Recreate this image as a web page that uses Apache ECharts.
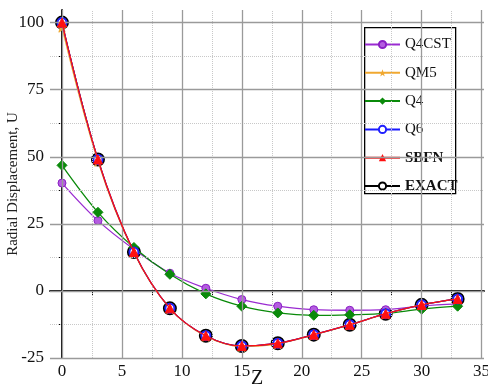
<!DOCTYPE html>
<html><head><meta charset="utf-8">
<script src="https://cdn.jsdelivr.net/npm/echarts@6/dist/echarts.min.js"></script>
<style>html,body{margin:0;padding:0;background:#fff}#c{width:488px;height:385px}</style>
</head><body><div id="c"></div><script>
const zValues = [0, 3, 6, 9, 12, 15, 18, 21, 24, 27, 30, 33];
const q4cst = [40.2, 26.2, 15.5, 6.6, 1.0, -3.2, -5.7, -7.0, -7.2, -7.0, -5.6, -4.8];
const qm5   = [98.3, 48.3, 14.2, -6.6, -16.9, -20.7, -19.7, -16.4, -12.7, -8.6, -5.2, -3.0];
const q4    = [46.8, 29.3, 16.2, 6.2, -1.1, -5.7, -8.2, -9.1, -8.9, -8.4, -6.8, -5.7];
const q6    = [100, 49, 14.5, -6.5, -16.7, -20.5, -19.5, -16.3, -12.6, -8.5, -5.2, -3.0];
const sbfn  = [100, 49, 14.5, -6.5, -16.7, -20.5, -19.5, -16.3, -12.6, -8.5, -5.2, -3.0];
const exact = [100, 49, 14.5, -6.5, -16.7, -20.5, -19.5, -16.3, -12.6, -8.5, -5.2, -3.0];
const xTickValues = [0, 5, 10, 15, 20, 25, 30, 35];
const xMinorValues = [2.5, 7.5, 12.5, 17.5, 22.5, 27.5, 32.5];
const yTickValues = [-25, 0, 25, 50, 75, 100];
const yMinorValues = [-12.5, 12.5, 37.5, 62.5, 87.5];
const seriesNames = ['Q4CST', 'QM5', 'Q4', 'Q6', 'SBFN', 'EXACT'];

const pair = arr => zValues.map((x, i) => [x, arr[i]]);
const serif = 'Liberation Serif';
const star = 'path://M0,-10 L2.35,-3.24 L9.51,-3.09 L3.8,1.24 L5.88,8.09 L0,4 L-5.88,8.09 L-3.8,1.24 L-9.51,-3.09 L-2.35,-3.24 Z';

const chart = echarts.init(document.getElementById('c'), null, {renderer: 'canvas'});
const gridLine = (vals, axis, type, color) => ({
  type: 'line', data: [], silent: true, z: 0,
  markLine: {
    silent: true, symbol: 'none', animation: false,
    label: {show: false},
    lineStyle: {type: type, color: color, width: type === 'solid' ? 1.3 : 1},
    data: vals.map(v => ({[axis]: v}))
  }
});
const mk = (name, data, color, symbol, size, extra) => Object.assign({
  name, type: 'line', data: pair(data), smooth: 0.35,
  symbol, symbolSize: size,
  lineStyle: {color, width: 1.3},
  itemStyle: {color, borderColor: color},
  animation: false
}, extra || {});

chart.setOption({
  backgroundColor: '#fff',
  grid: {left: 50, right: 4, top: 10, bottom: 27, containLabel: false, outerBoundsMode: 'none'},
  xAxis: [{
    type: 'value', min: -1, max: 35.2, position: 'bottom',
    name: 'Z', nameLocation: 'middle', nameGap: 11, nameMoveOverlap: false,
    nameTextStyle: {fontFamily: serif, fontSize: 20, color: '#111', padding: [0, 20, 0, 0]},
    axisLine: {show: true, lineStyle: {color: '#000', width: 1.5}},
    axisTick: {show: true, inside: false, length: 4, customValues: xMinorValues, lineStyle: {color: '#000'}},
    axisLabel: {customValues: xTickValues, fontFamily: serif, fontSize: 17, color: '#111', margin: 5},
    splitLine: {show: false}
  }, {
    type: 'value', min: -1, max: 35.2, position: 'top',
    axisLine: {show: true, lineStyle: {color: '#000', width: 1.5}},
    axisTick: {show: true, inside: true, length: 5, customValues: xTickValues, lineStyle: {color: '#000'}},
    axisLabel: {show: false}, splitLine: {show: false}
  }],
  yAxis: [{
    type: 'value', min: -25, max: 104.7,
    name: 'Radial Displacement, U', nameLocation: 'middle', nameGap: 29, nameMoveOverlap: false,
    nameTextStyle: {fontFamily: serif, fontSize: 15, color: '#222'},
    axisLine: {show: true, lineStyle: {color: '#000', width: 1.5}},
    axisTick: {show: true, inside: false, length: 4, customValues: yMinorValues, lineStyle: {color: '#000'}},
    axisLabel: {customValues: yTickValues, fontFamily: serif, fontSize: 17, color: '#111', margin: 6},
    splitLine: {show: false}
  }, {
    type: 'value', min: -25, max: 104.7, position: 'right',
    axisLine: {show: true, lineStyle: {color: '#000', width: 1.5}},
    axisTick: {show: true, inside: true, length: 5, customValues: yTickValues, lineStyle: {color: '#000'}},
    axisLabel: {show: false}, splitLine: {show: false}
  }],
  legend: {
    orient: 'vertical', left: 364, top: 37, padding: 0,
    itemWidth: 35, itemHeight: 9, itemGap: 13.3,
    textStyle: {fontFamily: serif, fontSize: 15, color: '#111'},
    data: seriesNames.map(n => ({name: n, textStyle: (n === 'SBFN' || n === 'EXACT') ? {fontWeight: 'bold'} : {}}))
  },
  graphic: [{
    type: 'rect', left: 364, top: 27, z: -1,
    shape: {width: 91, height: 166},
    style: {fill: '#fff', stroke: '#000', lineWidth: 1.3}
  }],
  series: [
    gridLine(xMinorValues, 'xAxis', 'dotted', '#c8c8c8'),
    gridLine(yMinorValues, 'yAxis', 'dotted', '#c8c8c8'),
    gridLine(xTickValues, 'xAxis', 'solid', '#9a9a9a'),
    gridLine(yTickValues, 'yAxis', 'solid', '#9a9a9a'),
    mk('EXACT', exact, '#000', 'emptyCircle', 12, {z: 2, lineStyle: {color: '#000', width: 1}, itemStyle: {color: '#000', borderColor: '#000', borderWidth: 1}}),
    mk('Q4CST', q4cst, '#9a2bd1', 'circle', 8, {z: 3, itemStyle: {color: '#b45ce0', borderColor: '#8a1fc4', borderWidth: 1}}),
    mk('Q4', q4, '#0a8a0a', 'diamond', 10, {z: 3}),
    mk('QM5', qm5, '#f0a830', star, 10, {z: 3}),
    mk('Q6', q6, '#1a1aff', 'emptyCircle', 9, {z: 4, itemStyle: {color: '#2020ff', borderColor: '#1a1aff', borderWidth: 1.5}}),
    mk('SBFN', sbfn, '#ff1010', 'triangle', 9, {z: 5})
  ]
});
</script></body></html>
